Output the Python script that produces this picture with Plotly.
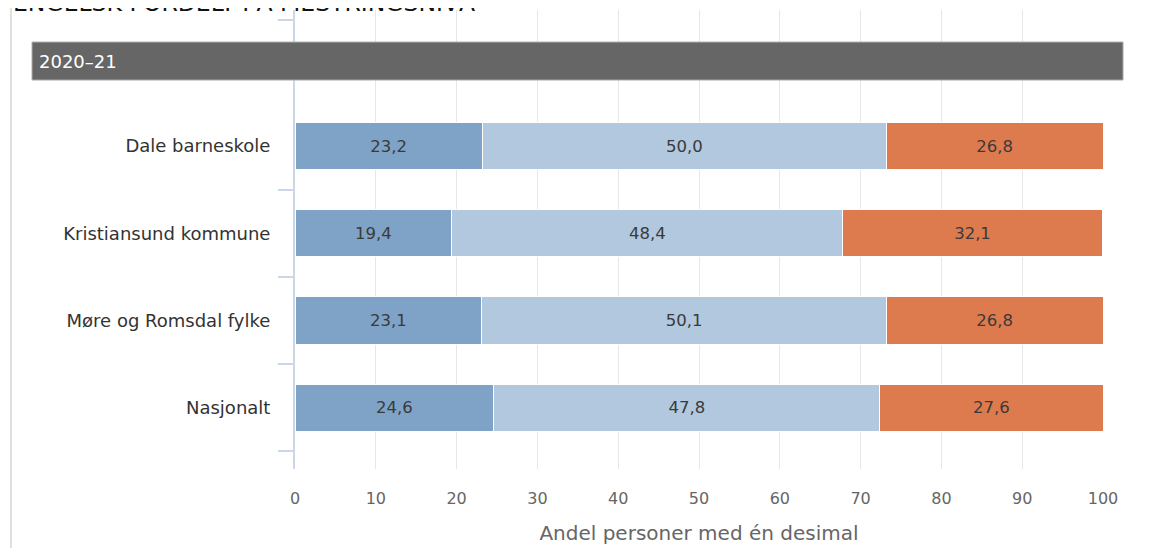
import plotly.graph_objects as go

categories = ["Dale barneskole", "Kristiansund kommune", "Møre og Romsdal fylke", "Nasjonalt"]
level_low = [23.2, 19.4, 23.1, 24.6]
level_mid = [50.0, 48.4, 50.1, 47.8]
level_high = [26.8, 32.1, 26.8, 27.6]
series_names = ["Mestringsnivå 1", "Mestringsnivå 2", "Mestringsnivå 3"]
series_colors = ["#7fa3c7", "#b1c8de", "#de7b4e"]
x_ticks = [0, 10, 20, 30, 40, 50, 60, 70, 80, 90, 100]
period_label = "2020–21"
chart_title = "ENGELSK FORDELT PÅ MESTRINGSNIVÅ"
x_title = "Andel personer med én desimal"

FONT = "DejaVu Sans"
ypos = [1, 2, 3, 4]

fig = go.Figure()
for name, vals, col in zip(series_names, [level_low, level_mid, level_high], series_colors):
    fig.add_trace(go.Bar(
        y=ypos, x=vals, orientation="h", name=name,
        marker=dict(color=col, line=dict(color="#ffffff", width=1)),
        width=0.54,
        text=vals, texttemplate="%{x:.1f}", textposition="inside",
        insidetextanchor="middle",
        textfont=dict(family=FONT, size=16.5, color="#3a3a3a"),
        cliponaxis=False,
    ))

# page body has an 8px default margin, compensated in the margins below
fig.update_layout(
    barmode="stack",
    width=1163, height=548,
    separators=", ",
    showlegend=False,
    plot_bgcolor="#ffffff", paper_bgcolor="#ffffff",
    margin=dict(l=287, r=68, t=2, b=87),
    font=dict(family=FONT, color="#333333"),
    uniformtext=dict(mode="show", minsize=10),
)

fig.update_xaxes(
    range=[0, 100], tickvals=x_ticks, ticktext=[str(v) for v in x_ticks],
    showgrid=True, gridcolor="#e6e6e6", gridwidth=1,
    zeroline=False, showline=False, ticks="",
    tickfont=dict(family=FONT, size=16, color="#666666"),
    ticklabelstandoff=18,
    title=dict(text=x_title, font=dict(family=FONT, size=20, color="#666666"), standoff=18),
)

fig.update_yaxes(
    range=[4.702, -0.559],
    tickvals=ypos, ticktext=categories,
    showgrid=False, zeroline=False,
    showline=True, linecolor="#ccd6eb", linewidth=2,
    ticks="",
    tickfont=dict(family=FONT, size=18, color="#333333"),
    ticklabelstandoff=19,
    minor=dict(tickvals=[-0.444, 1.5, 2.5, 3.5, 4.5], ticks="outside",
               ticklen=15, tickcolor="#ccd6eb", tickwidth=1.5, showgrid=False),
)

# header band
fig.add_shape(type="rect", xref="paper", yref="y",
              x0=-0.3255, x1=1.0248, y0=-0.192, y1=0.244,
              fillcolor="#666666", line=dict(color="#b0b0b0", width=1), layer="above")
fig.add_annotation(xref="paper", yref="y", x=-0.3195, y=0.026, text=period_label,
                   showarrow=False, xanchor="left", yanchor="middle",
                   font=dict(family=FONT, size=18, color="#ffffff"))
# outer left border line
fig.add_shape(type="line", xref="paper", yref="paper", x0=-0.3515, x1=-0.3515, y0=-0.2, y1=1.03,
              line=dict(color="#e0e0e0", width=2))
# cut-off title
fig.add_annotation(xref="paper", yref="paper", x=-0.352, y=0.981, text=chart_title,
                   showarrow=False, xanchor="left", yanchor="bottom",
                   font=dict(family=FONT, size=23.5, color="#111111"))

fig.write_html("out.html")
